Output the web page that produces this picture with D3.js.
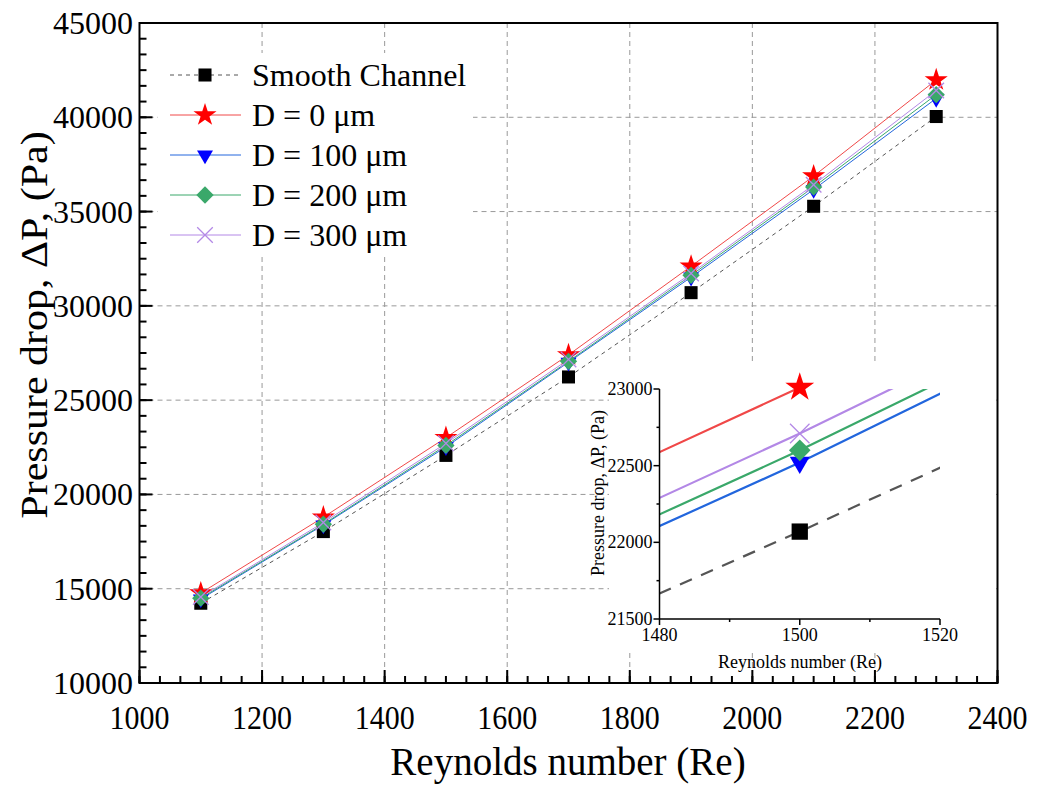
<!DOCTYPE html>
<html><head><meta charset="utf-8">
<script src="https://cdn.jsdelivr.net/npm/d3@7"></script>
<style>body{margin:0;background:#fff}svg{display:block;font-family:"Liberation Serif","Times New Roman",serif}</style>
</head><body><svg id="c" width="1038" height="785"></svg>
<script>
const re = [1100, 1300, 1500, 1700, 1900, 2100, 2300];
const smooth = [14230, 18030, 22070, 26230, 30700, 35280, 40040];
const d0 = [14770, 18790, 23010, 27400, 32100, 36880, 41980];
const d100 = [14450, 18380, 22520, 27010, 31520, 36170, 41000];
const d200 = [14500, 18420, 22600, 27060, 31620, 36300, 41200];
const d300 = [14560, 18510, 22710, 27160, 31720, 36420, 41420];
const seriesNames = ["Smooth Channel", "D = 0 \u03bcm", "D = 100 \u03bcm", "D = 200 \u03bcm", "D = 300 \u03bcm"];
const xTicks = [1000, 1200, 1400, 1600, 1800, 2000, 2200, 2400];
const yTicks = [10000, 15000, 20000, 25000, 30000, 35000, 40000, 45000];
const insetXTicks = [1480, 1500, 1520];
const insetYTicks = [21500, 22000, 22500, 23000];

const series = [
  {name: seriesNames[0], values: smooth, line: "#555", mark: "#000", sym: "square", dash: true},
  {name: seriesNames[1], values: d0, line: "#f04848", mark: "#ff0000", sym: "star"},
  {name: seriesNames[2], values: d100, line: "#2266dd", mark: "#0000ff", sym: "tri"},
  {name: seriesNames[3], values: d200, line: "#3aa86a", mark: "#3aa86a", sym: "diamond"},
  {name: seriesNames[4], values: d300, line: "#b388e6", mark: "#b388e6", sym: "x"}
];

const svg = d3.select("#c");
const L = 139.5, R = 997.5, T = 23, B = 683;
const x = d3.scaleLinear().domain([1000, 2400]).range([L, R]);
const y = d3.scaleLinear().domain([10000, 45000]).range([B, T]);

function symPath(sym, scale) {
  const k = scale || 1;
  if (sym === "square") return d3.symbol(d3.symbolSquare, 170 * k * k)();
  if (sym === "star") return d3.symbol(d3.symbolStar, 165 * k * k)();
  if (sym === "tri") return d3.symbol(d3.symbolTriangle, 110 * k * k)();
  if (sym === "diamond") return d3.symbol(d3.symbolSquare, 150 * k * k)();
  if (sym === "x") return d3.symbol(d3.symbolTimes, 160 * k * k)();
}
function symTransform(sym) {
  if (sym === "tri") return " rotate(180)";
  if (sym === "diamond") return " rotate(45)";
  return "";
}
function drawMarker(g, s, cx, cy, k) {
  const p = g.append("path").attr("d", symPath(s.sym, k))
    .attr("transform", `translate(${cx},${cy})` + symTransform(s.sym));
  if (s.sym === "x") p.attr("fill", "none").attr("stroke", s.mark).attr("stroke-width", 1.3);
  else p.attr("fill", s.mark);
}

// grid
const grid = svg.append("g").attr("stroke", "#999").attr("stroke-width", 1).attr("stroke-dasharray", "5,4");
xTicks.slice(1, -1).forEach(t => grid.append("line").attr("x1", x(t)).attr("x2", x(t)).attr("y1", T).attr("y2", B));
yTicks.slice(1, -1).forEach(t => grid.append("line").attr("x1", L).attr("x2", R).attr("y1", y(t)).attr("y2", y(t)));

// legend background
svg.append("rect").attr("x", 158).attr("y", 53).attr("width", 315).attr("height", 204).attr("fill", "#fff");
// inset background
svg.append("rect").attr("x", 609).attr("y", 363).attr("width", 387).attr("height", 288).attr("fill", "#fff");

// main lines and markers
const line = d3.line().x((d, i) => x(re[i])).y(d => y(d));
series.forEach(s => {
  svg.append("path").datum(s.values).attr("d", line).attr("fill", "none")
    .attr("stroke", s.line).attr("stroke-width", 1)
    .attr("stroke-dasharray", s.dash ? "4,4" : null);
});
series.forEach(s => {
  const g = svg.append("g");
  s.values.forEach((v, i) => drawMarker(g, s, x(re[i]), y(v), 1));
});

// frame
svg.append("rect").attr("x", L).attr("y", T).attr("width", R - L).attr("height", B - T)
  .attr("fill", "none").attr("stroke", "#000").attr("stroke-width", 2);

// axes (inward ticks)
const xMinor = d3.range(1000, 2400.01, 200 / 6);
const yMinor = d3.range(10000, 45000.01, 5000 / 6);
const ax = svg.append("g").attr("stroke", "#000").attr("stroke-width", 2);
xMinor.forEach(t => ax.append("line").attr("x1", x(t)).attr("x2", x(t)).attr("y1", B).attr("y2", B - 7));
xTicks.forEach(t => ax.append("line").attr("x1", x(t)).attr("x2", x(t)).attr("y1", B).attr("y2", B - 13));
yMinor.forEach(t => ax.append("line").attr("y1", y(t)).attr("y2", y(t)).attr("x1", L).attr("x2", L + 7));
yTicks.forEach(t => ax.append("line").attr("y1", y(t)).attr("y2", y(t)).attr("x1", L).attr("x2", L + 13));

svg.append("g").selectAll("text").data(xTicks).join("text")
  .attr("transform", d => `translate(${x(d)},729) scale(1,1.15)`).attr("text-anchor", "middle")
  .attr("font-size", 30).text(d => d);
svg.append("g").selectAll("text").data(yTicks).join("text")
  .attr("x", 133).attr("y", d => y(d) + 11).attr("text-anchor", "end")
  .attr("font-size", 32).text(d => d);

svg.append("text").attr("x", 568).attr("y", 775).attr("text-anchor", "middle")
  .attr("font-size", 39).text("Reynolds number (Re)");
svg.append("text").attr("transform", "translate(47,325) rotate(-90) scale(1,0.92)").attr("text-anchor", "middle")
  .attr("font-size", 42).text("Pressure drop, \u0394P, (Pa)");

// legend
series.forEach((s, i) => {
  const cy = 75 + i * 40;
  const g = svg.append("g");
  g.append("line").attr("x1", 170).attr("x2", 241).attr("y1", cy).attr("y2", cy)
    .attr("stroke", s.line).attr("stroke-width", 1).attr("stroke-dasharray", s.dash ? "4,4" : null);
  drawMarker(g, s, 205, cy, 1);
  g.append("text").attr("x", 252).attr("y", cy + 11).attr("font-size", 32).text(s.name);
});

// inset
const iL = 659.5, iR = 940, iT = 389, iB = 619;
const ix = d3.scaleLinear().domain([1480, 1520]).range([iL, iR]);
const iy = d3.scaleLinear().domain([21500, 23000]).range([iB, iT]);
svg.append("clipPath").attr("id", "ic").append("rect").attr("x", iL).attr("y", iT).attr("width", iR - iL).attr("height", iB - iT);
const ig = svg.append("g");
const iline = d3.line().x((d, i) => ix(re[i])).y(d => iy(d));
const il = ig.append("g").attr("clip-path", "url(#ic)");
series.forEach(s => {
  il.append("path").datum(s.values).attr("d", iline).attr("fill", "none")
    .attr("stroke", s.dash ? "#555" : s.line).attr("stroke-width", 2.2)
    .attr("stroke-dasharray", s.dash ? "13,10" : null);
});
series.forEach(s => {
  const g = ig.append("g");
  s.values.forEach((v, i) => {
    if (re[i] >= 1480 && re[i] <= 1520) drawMarker(g, s, ix(re[i]), iy(v), 1.25);
  });
});
const iax = ig.append("g").attr("stroke", "#000").attr("stroke-width", 1.5);
iax.append("line").attr("x1", iL).attr("x2", iL).attr("y1", iT).attr("y2", iB);
iax.append("line").attr("x1", iL).attr("x2", iR).attr("y1", iB).attr("y2", iB);
insetXTicks.forEach(t => iax.append("line").attr("x1", ix(t)).attr("x2", ix(t)).attr("y1", iB).attr("y2", iB + 6));
[1490, 1510].forEach(t => iax.append("line").attr("x1", ix(t)).attr("x2", ix(t)).attr("y1", iB).attr("y2", iB + 3));
insetYTicks.forEach(t => iax.append("line").attr("y1", iy(t)).attr("y2", iy(t)).attr("x1", iL).attr("x2", iL - 6));
[21750, 22250, 22750].forEach(t => iax.append("line").attr("y1", iy(t)).attr("y2", iy(t)).attr("x1", iL).attr("x2", iL - 3));
ig.append("g").selectAll("text").data(insetXTicks).join("text")
  .attr("x", d => ix(d)).attr("y", 641).attr("text-anchor", "middle").attr("font-size", 18).text(d => d);
ig.append("g").selectAll("text").data(insetYTicks).join("text")
  .attr("x", iL - 7).attr("y", d => iy(d) + 6).attr("text-anchor", "end").attr("font-size", 18).text(d => d);
ig.append("text").attr("x", 800).attr("y", 668).attr("text-anchor", "middle").attr("font-size", 18).text("Reynolds number (Re)");
ig.append("text").attr("transform", "translate(604,493) rotate(-90)").attr("text-anchor", "middle")
  .attr("font-size", 18).text("Pressure drop, \u0394P, (Pa)");
</script></body></html>
